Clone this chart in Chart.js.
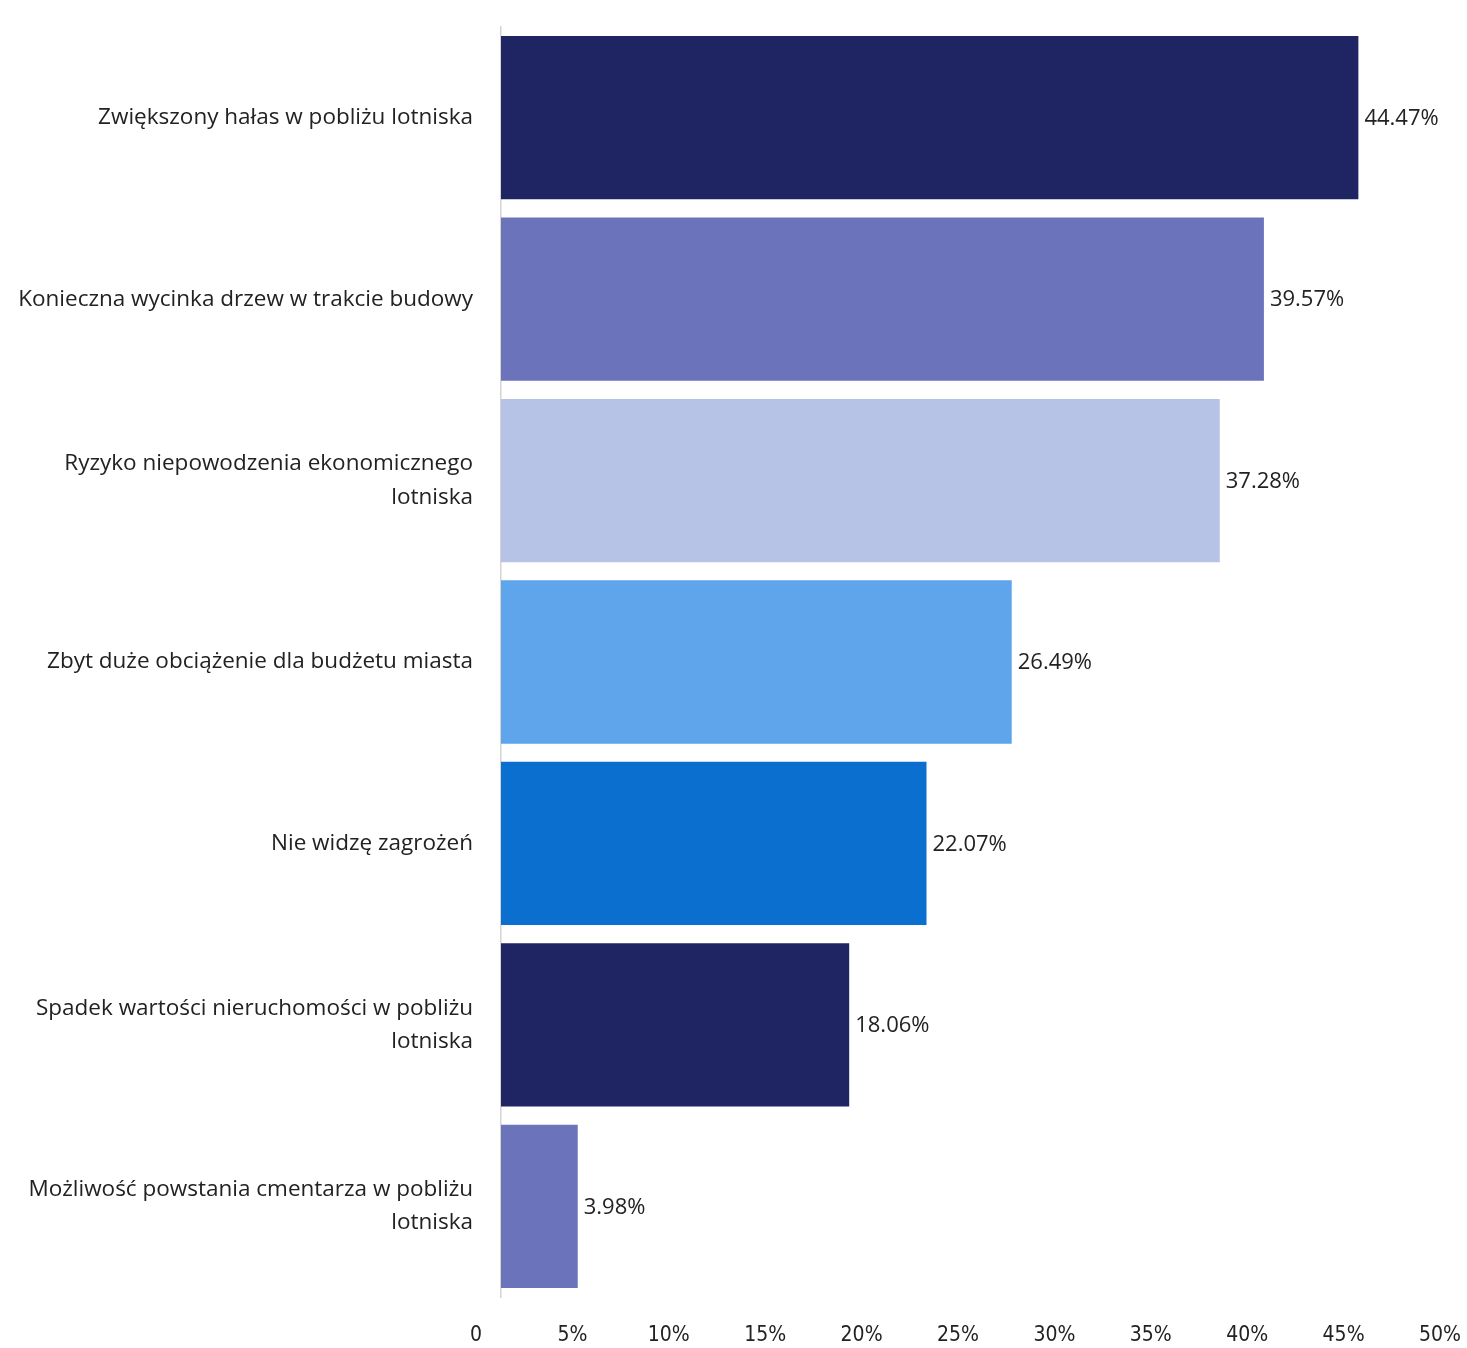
<!DOCTYPE html>
<html>
<head>
<meta charset="utf-8">
<script src="https://cdn.jsdelivr.net/npm/chart.js@4"></script>
<style>
  html,body{margin:0;padding:0;background:#fff;}
  #wrap{width:1467px;height:1348px;position:relative;}
</style>
</head>
<body>
<div id="wrap"><canvas id="c"></canvas></div>
<script>
// === DATA ===
const categories = [
  'Zwiększony hałas w pobliżu lotniska',
  'Konieczna wycinka drzew w trakcie budowy',
  ['Ryzyko niepowodzenia ekonomicznego', 'lotniska'],
  'Zbyt duże obciążenie dla budżetu miasta',
  'Nie widzę zagrożeń',
  ['Spadek wartości nieruchomości w pobliżu', 'lotniska'],
  ['Możliwość powstania cmentarza w pobliżu', 'lotniska']
];
const values = [44.47, 39.57, 37.28, 26.49, 22.07, 18.06, 3.98];
const barColors = ['#1f2562', '#6b73bb', '#b6c2e6', '#5ea5ec', '#0a6fce', '#1f2562', '#6b73bb'];
const xTicks = [0, 5, 10, 15, 20, 25, 30, 35, 40, 45, 50];

// value labels at bar ends
const valueLabels = {
  id: 'valueLabels',
  afterDatasetsDraw(chart) {
    const ctx = chart.ctx;
    const meta = chart.getDatasetMeta(0);
    ctx.save();
    ctx.font = '22px "Open Sans", sans-serif';
    ctx.fillStyle = '#222';
    ctx.textBaseline = 'middle';
    ctx.textAlign = 'left';
    meta.data.forEach((bar, i) => {
      ctx.fillText(values[i].toFixed(2) + '%', bar.x + 6, bar.y + 1);
    });
    ctx.restore();
  }
};

new Chart(document.getElementById('c'), {
  type: 'bar',
  data: {labels: categories,
    datasets: [{data: values, backgroundColor: barColors, borderWidth: 0,
      categoryPercentage: 1, barPercentage: 0.9}]},
  options: {indexAxis: 'y', responsive: true, maintainAspectRatio: false,
    animation: false,
    layout: {padding: {top: 27, right: 2, left: 0, bottom: 0}},
    plugins: {legend: {display: false}, tooltip: {enabled: false}},
    scales: {
      x: {min: 0, max: 50,
        afterBuildTicks: s => { s.ticks = xTicks.map(v => ({value: v})); },
        afterFit: s => { s.height = 51; s.paddingLeft = 0; s.paddingRight = 0; },
        grid: {display: false, drawTicks: false}, border: {display: false},
        ticks: {color: '#222', padding: 26, labelOffset: -25, maxRotation: 0,
          font: {family: '"DejaVu Sans Condensed", "Liberation Sans Narrow", sans-serif', size: 21},
          callback: v => v === 0 ? '0' : v + '%'}},
      y: {afterFit: s => { s.width = 501; s.paddingTop = 0; s.paddingBottom = 0; },
        grid: {display: false, drawTicks: false},
        border: {display: true, color: '#d4d4d4', width: 1.5},
        ticks: {color: '#222', padding: 28,
          font: {family: '"Open Sans", sans-serif', size: 22.5, lineHeight: 1.47}}}
    }},
  plugins: [valueLabels]
});
</script>
</body>
</html>
